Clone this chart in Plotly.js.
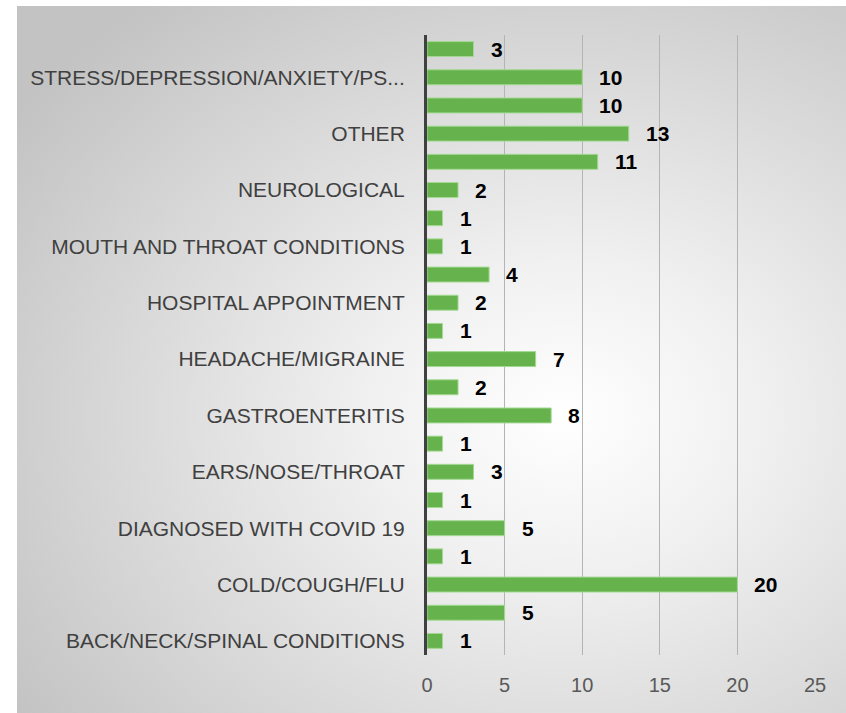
<!DOCTYPE html>
<html>
<head>
<meta charset="utf-8">
<script src="https://cdn.plot.ly/plotly-3.0.1.min.js"></script>
<style>
  html, body { margin: 0; padding: 0; background: #ffffff; }
  #bg { position: absolute; left: 17px; top: 6px; width: 829px; height: 707px;
        background: radial-gradient(ellipse 80% 75% at 66% 58%, #ffffff 0%, #f0f0f0 30%, #c3c3c3 100%); }
  #chart { position: absolute; left: 0; top: 0; width: 846px; height: 713px; }
</style>
</head>
<body>
<div id="bg"></div>
<div id="chart"></div>
<script>
// Categories from bottom to top
const categories = [
  "BACK/NECK/SPINAL CONDITIONS",
  "CHEST/RESPIRATORY",
  "COLD/COUGH/FLU",
  "DENTAL",
  "DIAGNOSED WITH COVID 19",
  "DIGESTIVE",
  "EARS/NOSE/THROAT",
  "EYE CONDITIONS",
  "GASTROENTERITIS",
  "GENITO-URINARY",
  "HEADACHE/MIGRAINE",
  "HEART/CARDIAC",
  "HOSPITAL APPOINTMENT",
  "INJURY/FRACTURE",
  "MOUTH AND THROAT CONDITIONS",
  "MUSCULOSKELETAL",
  "NEUROLOGICAL",
  "OPERATION/POST OPERATIVE",
  "OTHER",
  "PREGNANCY RELATED",
  "STRESS/DEPRESSION/ANXIETY/PSYCHOLOGICAL",
  "VOMITING/DIARRHOEA"
];
const values = [1, 5, 20, 1, 5, 1, 3, 1, 8, 2, 7, 1, 2, 4, 1, 1, 2, 11, 13, 10, 10, 3];

// Only every other category is labelled on the axis
const tickCategories = [
  "BACK/NECK/SPINAL CONDITIONS",
  "COLD/COUGH/FLU",
  "DIAGNOSED WITH COVID 19",
  "EARS/NOSE/THROAT",
  "GASTROENTERITIS",
  "HEADACHE/MIGRAINE",
  "HOSPITAL APPOINTMENT",
  "MOUTH AND THROAT CONDITIONS",
  "NEUROLOGICAL",
  "OTHER",
  "STRESS/DEPRESSION/ANXIETY/PSYCHOLOGICAL"
];
const tickLabels = [
  "BACK/NECK/SPINAL CONDITIONS",
  "COLD/COUGH/FLU",
  "DIAGNOSED WITH COVID 19",
  "EARS/NOSE/THROAT",
  "GASTROENTERITIS",
  "HEADACHE/MIGRAINE",
  "HOSPITAL APPOINTMENT",
  "MOUTH AND THROAT CONDITIONS",
  "NEUROLOGICAL",
  "OTHER",
  "STRESS/DEPRESSION/ANXIETY/PS..."
];
const xTicks = [0, 5, 10, 15, 20, 25];

const trace = {
  type: 'bar',
  orientation: 'h',
  x: values,
  y: categories,
  marker: { color: '#66b24c', line: { color: '#a3d993', width: 1 } },
  hoverinfo: 'x+y'
};

const annotations = values.map((v, i) => ({
  x: v, y: categories[i], xref: 'x', yref: 'y',
  text: String(v), showarrow: false,
  xanchor: 'left', yanchor: 'middle', xshift: 15,
  font: { family: 'Liberation Sans, Arial, sans-serif', size: 21, color: '#000000', weight: 'bold' }
}));

const layout = {
  width: 846, height: 713,
  margin: { l: 427, r: 31, t: 35, b: 58 },
  paper_bgcolor: 'rgba(0,0,0,0)',
  plot_bgcolor: 'rgba(0,0,0,0)',
  showlegend: false,
  bargap: 0.47,
  font: { family: 'Liberation Sans, Arial, sans-serif' },
  xaxis: {
    range: [0, 25],
    tickvals: xTicks,
    ticktext: xTicks.map(String),
    showgrid: true, gridcolor: '#b4b4b4', gridwidth: 1,
    zeroline: false, showline: false, ticks: '',
    ticklabelstandoff: 16,
    tickfont: { size: 20, color: '#595959' },
    fixedrange: true
  },
  yaxis: {
    type: 'category',
    categoryorder: 'array', categoryarray: categories,
    tickvals: tickCategories, ticktext: tickLabels,
    showgrid: false, zeroline: false,
    showline: true, linecolor: '#404040', linewidth: 3,
    ticks: '', ticklabelstandoff: 15,
    tickfont: { size: 21, color: '#404040' },
    fixedrange: true
  },
  annotations: annotations
};

Plotly.newPlot('chart', [trace], layout, { displayModeBar: false, staticPlot: true });
</script>
</body>
</html>
